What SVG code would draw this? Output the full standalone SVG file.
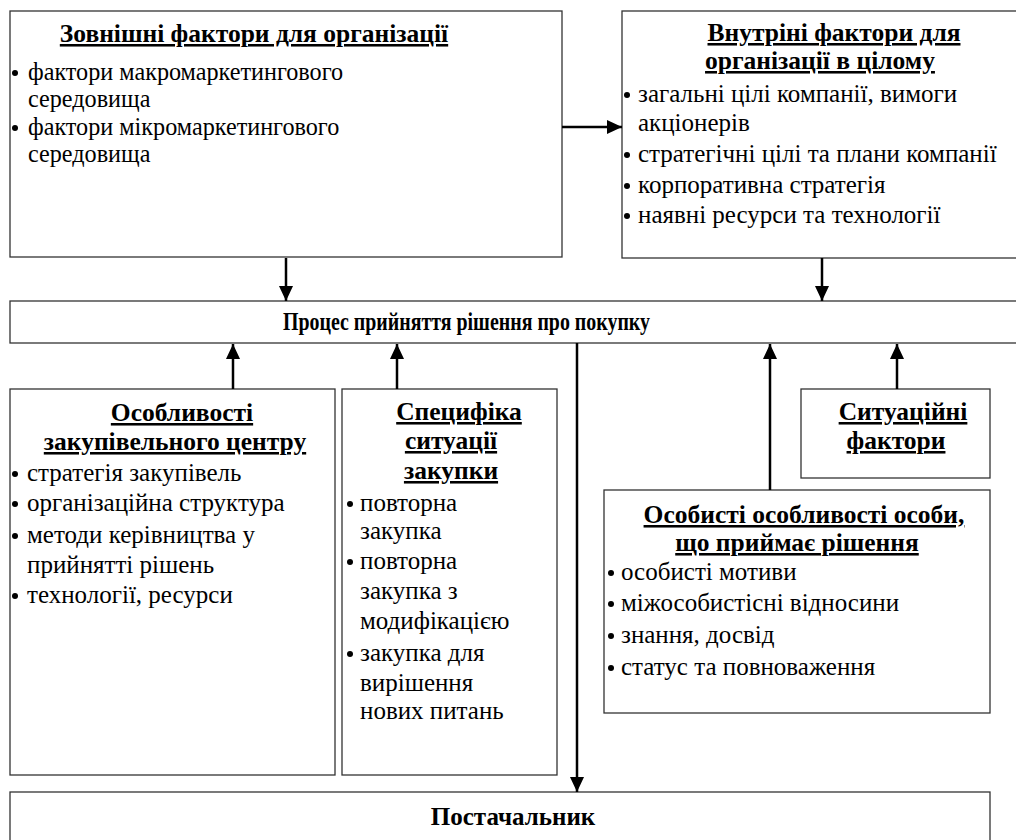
<svg xmlns="http://www.w3.org/2000/svg" width="1016" height="840" viewBox="0 0 1016 840">
<defs>
<style>
.box{fill:#fff;stroke:#333;stroke-width:1.3}
.t{font-family:'Liberation Serif','Times New Roman',serif;font-size:25px;fill:#000}
.ts{font-size:24.2px}
.h{font-family:'Liberation Serif','Times New Roman',serif;font-size:25.5px;font-weight:bold;fill:#000;text-decoration:underline}
.hc{font-family:'Liberation Serif','Times New Roman',serif;font-size:25px;font-weight:bold;fill:#000}
.c{stroke:#000;stroke-width:2.5;fill:none}
.b{fill:#000}
</style>
<marker id="ah" markerUnits="userSpaceOnUse" markerWidth="15" markerHeight="14" refX="15" refY="7" orient="auto">
<path d="M0,0 L15,7 L0,14 z" fill="#000"/>
</marker>
</defs>
<rect width="1016" height="840" fill="#fff"/>

<g id="external">
<rect class="box" x="10" y="11" width="552" height="246"/>
<text class="h" x="254" y="42" text-anchor="middle">Зовнішні фактори для організації</text>
<circle class="b" cx="15" cy="73" r="3"/>
<text class="t ts" x="28" y="80">фактори макромаркетингового</text>
<text class="t ts" x="28" y="107">середовища</text>
<circle class="b" cx="15" cy="128" r="3"/>
<text class="t ts" x="28" y="135">фактори мікромаркетингового</text>
<text class="t ts" x="28" y="162">середовища</text>
</g>

<g id="internal">
<rect class="box" x="622" y="11" width="420" height="247"/>
<text class="h" x="834" y="41" text-anchor="middle">Внутріні фактори для</text>
<text class="h" x="820" y="69" text-anchor="middle">організації в цілому</text>
<circle class="b" cx="627" cy="95" r="3"/>
<text class="t" x="638" y="102">загальні цілі компанії, вимоги</text>
<text class="t" x="638" y="131">акціонерів</text>
<circle class="b" cx="627" cy="155" r="3"/>
<text class="t" x="638" y="162">стратегічні цілі та плани компанії</text>
<circle class="b" cx="627" cy="186" r="3"/>
<text class="t" x="638" y="193">корпоративна стратегія</text>
<circle class="b" cx="627" cy="216" r="3"/>
<text class="t" x="638" y="223">наявні ресурси та технології</text>
</g>

<g id="process">
<rect class="box" x="10" y="301" width="1030" height="42"/>
<text class="hc" x="283" y="330" textLength="367" lengthAdjust="spacingAndGlyphs">Процес прийняття рішення про покупку</text>
</g>

<g id="buying-center">
<rect class="box" x="10" y="389" width="325" height="386"/>
<text class="h" x="182" y="421" text-anchor="middle">Особливості</text>
<text class="h" x="175" y="450" text-anchor="middle">закупівельного центру</text>
<circle class="b" cx="15" cy="474" r="3"/>
<text class="t" x="27" y="481">стратегія закупівель</text>
<circle class="b" cx="15" cy="504" r="3"/>
<text class="t" x="27" y="511">організаційна структура</text>
<circle class="b" cx="15" cy="536" r="3"/>
<text class="t" x="27" y="543">методи керівництва у</text>
<text class="t" x="27" y="573">прийнятті рішень</text>
<circle class="b" cx="15" cy="596" r="3"/>
<text class="t" x="27" y="603">технології, ресурси</text>
</g>

<g id="purchase-situation">
<rect class="box" x="342" y="389" width="215" height="386"/>
<text class="h" x="459" y="420" text-anchor="middle">Специфіка</text>
<text class="h" x="451" y="449" text-anchor="middle">ситуації</text>
<text class="h" x="451" y="479" text-anchor="middle">закупки</text>
<circle class="b" cx="350" cy="504" r="3"/>
<text class="t" x="360" y="511">повторна</text>
<text class="t" x="360" y="539">закупка</text>
<circle class="b" cx="350" cy="562" r="3"/>
<text class="t" x="360" y="569">повторна</text>
<text class="t" x="360" y="599">закупка з</text>
<text class="t" x="360" y="629">модифікацією</text>
<circle class="b" cx="350" cy="654" r="3"/>
<text class="t" x="360" y="661">закупка для</text>
<text class="t" x="360" y="691">вирішення</text>
<text class="t" x="360" y="719">нових питань</text>
</g>

<g id="situational">
<rect class="box" x="801" y="389" width="189" height="89"/>
<text class="h" x="903" y="420" text-anchor="middle">Ситуаційні</text>
<text class="h" x="896" y="449" text-anchor="middle">фактори</text>
</g>

<g id="personal">
<rect class="box" x="604" y="490" width="386" height="223"/>
<text class="h" x="804" y="523" text-anchor="middle">Особисті особливості особи,</text>
<text class="h" x="797" y="551" text-anchor="middle">що приймає рішення</text>
<circle class="b" cx="611" cy="573" r="3"/>
<text class="t" x="621" y="580">особисті мотиви</text>
<circle class="b" cx="611" cy="604" r="3"/>
<text class="t" x="621" y="611">міжособистісні відносини</text>
<circle class="b" cx="611" cy="636" r="3"/>
<text class="t" x="621" y="643">знання, досвід</text>
<circle class="b" cx="611" cy="668" r="3"/>
<text class="t" x="621" y="675">статус та повноваження</text>
</g>

<g id="supplier">
<rect class="box" x="10" y="792" width="980" height="70"/>
<text class="hc" x="513" y="825" text-anchor="middle">Постачальник</text>
</g>

<g id="connectors">
<line class="c" x1="562" y1="127" x2="622" y2="127" marker-end="url(#ah)"/>
<line class="c" x1="286" y1="258" x2="286" y2="301" marker-end="url(#ah)"/>
<line class="c" x1="822" y1="258" x2="822" y2="301" marker-end="url(#ah)"/>
<line class="c" x1="233" y1="389" x2="233" y2="344" marker-end="url(#ah)"/>
<line class="c" x1="397" y1="389" x2="397" y2="344" marker-end="url(#ah)"/>
<line class="c" x1="770" y1="490" x2="770" y2="344" marker-end="url(#ah)"/>
<line class="c" x1="897" y1="389" x2="897" y2="344" marker-end="url(#ah)"/>
<line class="c" x1="577" y1="343" x2="577" y2="792" marker-end="url(#ah)"/>
</g>
</svg>
